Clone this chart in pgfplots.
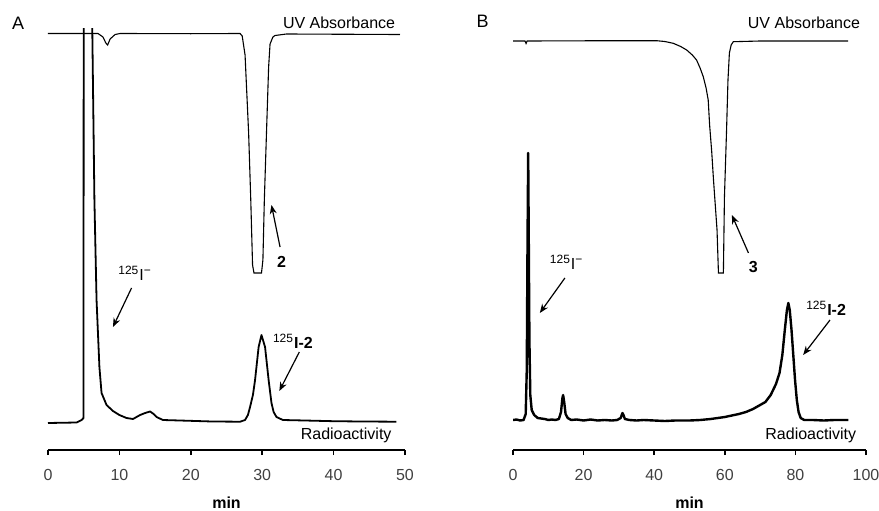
\documentclass[border=0pt]{standalone}
\usepackage{fontspec}
\setmainfont{Liberation Sans}
\usepackage{pgfplots}
\pgfplotsset{compat=1.18}
\usetikzlibrary{arrows.meta}

\pgfplotsset{
  chrom/.style={
    y=0.5pt, ymin=0, ymax=422,
    axis x line=bottom, axis y line=none,
    x axis line style={-, line width=0.8pt},
    tick align=outside, major tick length=2.5pt,
    tick style={line width=0.8pt, black},
    ytick=\empty,
    clip mode=individual,
    /pgf/number format/assume math mode=true,
    tick label style={font=\fontsize{8}{9}\selectfont, text=black!75},
    xticklabel style={yshift=-3.4pt},
  },
  uv/.style={black, line width=0.55pt},
  radio/.style={black, line width=0.9pt, line join=round},
}
\newcommand{\lab}{\fontsize{8}{9}\selectfont}
\tikzset{arr/.style={-{Stealth[length=4.5pt,width=3.5pt]}, line width=0.6pt}}

\begin{document}
\begin{tikzpicture}
\useasboundingbox (-24pt,-30pt) rectangle (415.5pt,225pt);

% ---- panel A ----
\begin{axis}[chrom, at={(0pt,0pt)}, anchor=south west,
  x=3.57pt, xmin=0, xmax=50, xtick={0,10,...,50}]
  % UV absorbance
  \addplot[uv] coordinates {
    (-0.2,416.5) (7.0,416.5) (7.7,413) (8.1,407) (8.35,405) (8.7,411) (9.4,415.5)
    (10.1,416.5) (20,416.3) (26.9,416.5) (27.2,414) (27.6,395) (28.1,317)
    (28.4,250) (28.65,185) (28.85,177) (29.9,177) (30.1,190) (30.3,250)
    (30.6,317) (30.9,383) (31.1,406) (31.5,413) (31.8,414.5) (33.4,416) (49.3,415.5)};
  % radioactivity
  \addplot[radio] coordinates {
    (0,27) (4.0,27.5) (4.7,30) (4.97,32) (5.04,1000) (6.2,1000) (6.2,422)
    (6.5,250) (6.8,150) (7.2,83) (7.5,57) (8.2,45) (9.1,39) (10.0,35) (11.0,32)
    (11.9,31) (12.9,35) (13.6,37) (14.3,38.5) (14.8,36) (15.2,33) (16.1,30)
    (19.4,29.3) (23,28.5) (26.9,28.3) (27.6,30) (28.0,35) (28.3,43) (28.7,55)
    (29.0,70) (29.5,103) (29.9,115) (30.4,103) (30.9,70) (31.3,47) (31.6,38)
    (32.0,33) (32.9,30) (36,29.5) (40,28.8) (44,28.5) (48.8,28.3)};
  \node[font=\fontsize{9}{10}\selectfont] at (axis cs:-4.2,427) {A};
  \node[font=\lab, anchor=east] at (axis cs:49.6,427) {UV Absorbance};
  \node[font=\lab, anchor=east] at (axis cs:49.1,15) {Radioactivity};
  \node[font=\lab\bfseries] at (axis cs:25,-53) {min};
  \node[font=\lab\bfseries] at (axis cs:32.7,188) {2};
  \draw[arr] (axis cs:32.5,203) -- (axis cs:31.3,245);
  \node[font=\lab] at (axis cs:12.2,177) {\textsuperscript{125}I\textsuperscript{−}};
  \draw[arr] (axis cs:11.7,162) -- (axis cs:9.1,123);
  \node[font=\lab] at (axis cs:34.3,109) {\textsuperscript{125}\textbf{I-2}};
  \draw[arr] (axis cs:35.2,98) -- (axis cs:32.4,59);
\end{axis}

% ---- panel B ----
\begin{axis}[chrom, at={(232.5pt,0pt)}, anchor=south west,
  x=1.765pt, xmin=0, xmax=100, xtick={0,20,...,100}]
  % UV absorbance
  \addplot[uv] coordinates {
    (0,409) (3.4,409) (3.7,406.5) (4.0,409) (20,409.2) (40.7,409.3) (43,408.5)
    (45.4,406.7) (47.5,403.5) (49.2,400) (50.8,395) (52.0,390) (53.0,382)
    (53.9,373.3) (54.7,362) (55.3,350) (55.7,325) (56.3,298) (56.8,270)
    (57.3,245) (57.8,220) (58.2,177) (59.6,177) (59.9,253) (60.5,320)
    (60.9,370) (61.3,397) (61.8,405) (62.4,408.3) (70,409) (94.9,409)};
  % radioactivity
  \addplot[radio, line width=1.2pt] coordinates {
    (0,30) (1,30.5) (2,29.5) (3,30) (3.6,36) (3.9,80) (4.1,200) (4.3,297)
    (4.45,220) (4.65,110) (4.9,55) (5.3,40) (6.0,35) (7,32) (8,31.5) (9,31)
    (10,30) (11,30.5) (12,30) (13,31) (13.6,38) (14.0,52) (14.2,55) (14.5,48)
    (14.9,36) (15.5,32) (16.5,30) (18,30.5) (20,29.5) (22,30.5) (24,29.5)
    (26,30) (28,29.5) (29.5,30) (30.5,32) (31.0,37) (31.3,35) (31.7,31) (33,30)
    (35,29.5) (37,30) (40,29.5) (43,29) (46,29.5) (50,29.5) (53,30) (56,31)
    (58,32) (60,33) (62,34.5) (64,36) (66,38) (68,41) (70,45) (71.5,48) (73,55)
    (74.5,66) (75.5,77) (76.3,95) (77.0,120) (77.6,140) (78.0,147) (78.4,140)
    (78.9,120) (79.4,95) (79.9,70) (80.4,50) (80.9,38) (81.5,32) (82.5,30)
    (85,30) (88,29.5) (91,30) (95,30)};
  \node[font=\fontsize{9}{10}\selectfont] at (axis cs:-8.6,429) {B};
  \node[font=\lab, anchor=east] at (axis cs:100.3,427) {UV Absorbance};
  \node[font=\lab, anchor=east] at (axis cs:99.2,15) {Radioactivity};
  \node[font=\lab\bfseries] at (axis cs:50,-53) {min};
  \node[font=\lab\bfseries] at (axis cs:68.1,183) {3};
  \draw[arr] (axis cs:66.7,197) -- (axis cs:62.0,235);
  \node[font=\lab] at (axis cs:15.2,188) {\textsuperscript{125}I\textsuperscript{−}};
  \draw[arr] (axis cs:14.7,172) -- (axis cs:7.6,137);
  \node[font=\lab] at (axis cs:88.7,142) {\textsuperscript{125}\textbf{I-2}};
  \draw[arr] (axis cs:89.8,130) -- (axis cs:82.2,95);
\end{axis}
\end{tikzpicture}
\end{document}
